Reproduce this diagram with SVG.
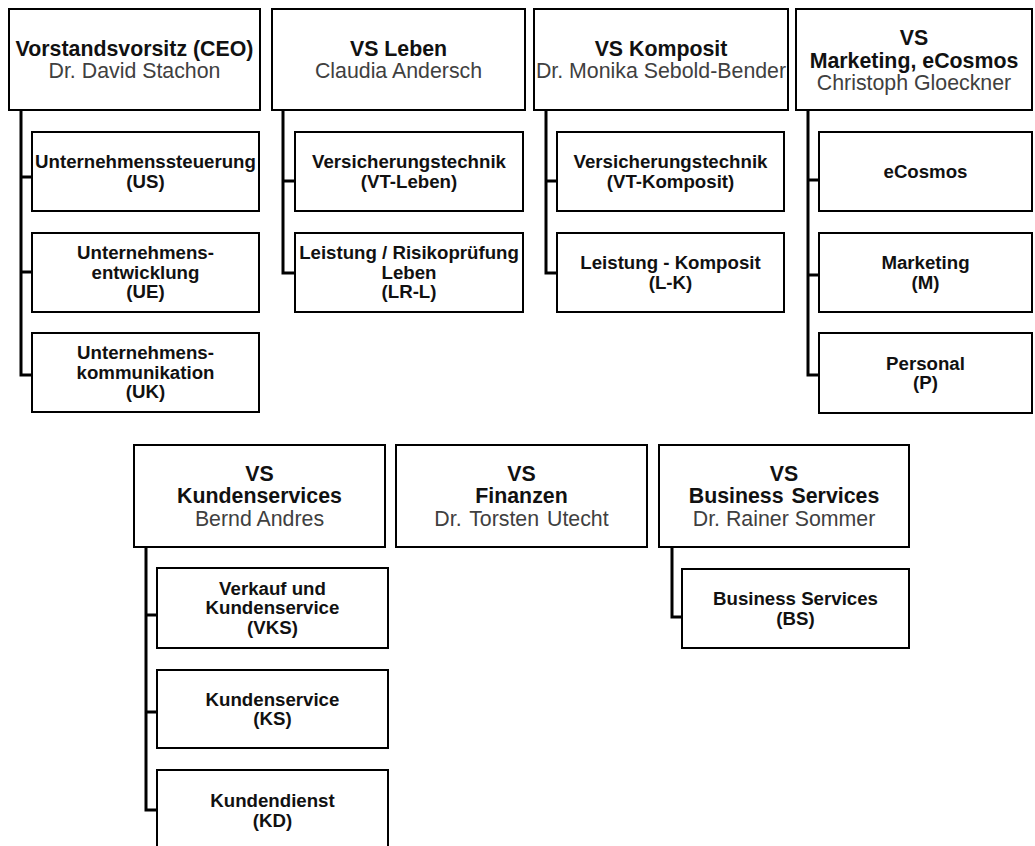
<svg xmlns="http://www.w3.org/2000/svg" width="1035" height="846" viewBox="0 0 1035 846">
<style>
  .box { fill: #ffffff; stroke: #000000; stroke-width: 2; }
  .con { fill: none; stroke: #000000; stroke-width: 3; }
  .b { font-family: "Liberation Sans", Arial, sans-serif; font-weight: bold; font-size: 18.67px; fill: #111111; text-anchor: middle; }
  .hb { font-family: "Liberation Sans", Arial, sans-serif; font-weight: bold; font-size: 21.33px; fill: #111111; text-anchor: middle; }
  .r { font-family: "Liberation Sans", Arial, sans-serif; font-size: 21.33px; fill: #404040; text-anchor: middle; }
</style>
<rect x="0" y="0" width="1035" height="846" fill="#ffffff"/>
<g id="connectors">
  <path class="con" d="M21 110 V177 H32 M21 110 V272 H32 M21 110 V375 H32"/>
  <path class="con" d="M283 110 V181 H295 M283 110 V273 H295"/>
  <path class="con" d="M546 110 V181 H557 M546 110 V273 H557"/>
  <path class="con" d="M808 110 V180 H819 M808 110 V275 H819 M808 110 V375 H819"/>
  <path class="con" d="M146 547 V615 H157 M146 547 V712 H157 M146 547 V810 H157"/>
  <path class="con" d="M672 547 V617 H682"/>
</g>
<g id="ceo">
  <rect class="box" x="9" y="9" width="251" height="101"/>
  <text class="hb" x="134.5" y="56">Vorstandsvorsitz (CEO)</text>
  <text class="r" x="134.5" y="78">Dr. David Stachon</text>
</g>
<g id="leben">
  <rect class="box" x="272" y="9" width="253" height="101"/>
  <text class="hb" x="398.5" y="56">VS Leben</text>
  <text class="r" x="398.5" y="78">Claudia Andersch</text>
</g>
<g id="komposit">
  <rect class="box" x="534" y="9" width="254" height="101"/>
  <text class="hb" x="661" y="56">VS Komposit</text>
  <text class="r" x="661" y="78">Dr. Monika Sebold-Bender</text>
</g>
<g id="marketing">
  <rect class="box" x="796" y="9" width="236" height="101"/>
  <text class="hb" x="914" y="45">VS</text>
  <text class="hb" x="914" y="67.5">Marketing, eCosmos</text>
  <text class="r" x="914" y="90">Christoph Gloeckner</text>
</g>
<g id="us">
  <rect class="box" x="32" y="132" width="227" height="79"/>
  <text class="b" x="145.5" y="168">Unternehmenssteuerung</text>
  <text class="b" x="145.5" y="187.5">(US)</text>
</g>
<g id="ue">
  <rect class="box" x="32" y="233" width="227" height="79"/>
  <text class="b" x="145.5" y="259">Unternehmens-</text>
  <text class="b" x="145.5" y="278.5">entwicklung</text>
  <text class="b" x="145.5" y="298">(UE)</text>
</g>
<g id="uk">
  <rect class="box" x="32" y="333" width="227" height="79"/>
  <text class="b" x="145.5" y="359">Unternehmens-</text>
  <text class="b" x="145.5" y="378.5">kommunikation</text>
  <text class="b" x="145.5" y="398">(UK)</text>
</g>
<g id="vt-leben">
  <rect class="box" x="295" y="132" width="228" height="79"/>
  <text class="b" x="409" y="168">Versicherungstechnik</text>
  <text class="b" x="409" y="187.5">(VT-Leben)</text>
</g>
<g id="lr-l">
  <rect class="box" x="295" y="233" width="228" height="79"/>
  <text class="b" x="409" y="259">Leistung / Risikoprüfung</text>
  <text class="b" x="409" y="278.5">Leben</text>
  <text class="b" x="409" y="298">(LR-L)</text>
</g>
<g id="vt-komposit">
  <rect class="box" x="557" y="132" width="227" height="79"/>
  <text class="b" x="670.5" y="168">Versicherungstechnik</text>
  <text class="b" x="670.5" y="187.5">(VT-Komposit)</text>
</g>
<g id="l-k">
  <rect class="box" x="557" y="233" width="227" height="79"/>
  <text class="b" x="670.5" y="269">Leistung - Komposit</text>
  <text class="b" x="670.5" y="288.5">(L-K)</text>
</g>
<g id="ecosmos">
  <rect class="box" x="819" y="132" width="213" height="79"/>
  <text class="b" x="925.5" y="178">eCosmos</text>
</g>
<g id="m">
  <rect class="box" x="819" y="233" width="213" height="79"/>
  <text class="b" x="925.5" y="269">Marketing</text>
  <text class="b" x="925.5" y="288.5">(M)</text>
</g>
<g id="p">
  <rect class="box" x="819" y="333" width="213" height="80"/>
  <text class="b" x="925.5" y="369.5">Personal</text>
  <text class="b" x="925.5" y="389">(P)</text>
</g>
<g id="kundenservices">
  <rect class="box" x="134" y="445" width="251" height="102"/>
  <text class="hb" x="259.5" y="481">VS</text>
  <text class="hb" x="259.5" y="503">Kundenservices</text>
  <text class="r" x="259.5" y="526">Bernd Andres</text>
</g>
<g id="finanzen">
  <rect class="box" x="396" y="445" width="251" height="102"/>
  <text class="hb" x="521.5" y="481">VS</text>
  <text class="hb" x="521.5" y="503">Finanzen</text>
  <text class="r" x="521.5" y="526" style="word-spacing:2px">Dr. Torsten Utecht</text>
</g>
<g id="business">
  <rect class="box" x="659" y="445" width="250" height="102"/>
  <text class="hb" x="784" y="481">VS</text>
  <text class="hb" x="784" y="503" style="word-spacing:2px">Business Services</text>
  <text class="r" x="784" y="526">Dr. Rainer Sommer</text>
</g>
<g id="vks">
  <rect class="box" x="157" y="568" width="231" height="80"/>
  <text class="b" x="272.5" y="594.5">Verkauf und</text>
  <text class="b" x="272.5" y="614">Kundenservice</text>
  <text class="b" x="272.5" y="633.5">(VKS)</text>
</g>
<g id="ks">
  <rect class="box" x="157" y="670" width="231" height="78"/>
  <text class="b" x="272.5" y="705.5">Kundenservice</text>
  <text class="b" x="272.5" y="725">(KS)</text>
</g>
<g id="kd">
  <rect class="box" x="157" y="770" width="231" height="80"/>
  <text class="b" x="272.5" y="807">Kundendienst</text>
  <text class="b" x="272.5" y="827">(KD)</text>
</g>
<g id="bs">
  <rect class="box" x="682" y="569" width="227" height="79"/>
  <text class="b" x="795.5" y="605">Business Services</text>
  <text class="b" x="795.5" y="624.5">(BS)</text>
</g>
</svg>
